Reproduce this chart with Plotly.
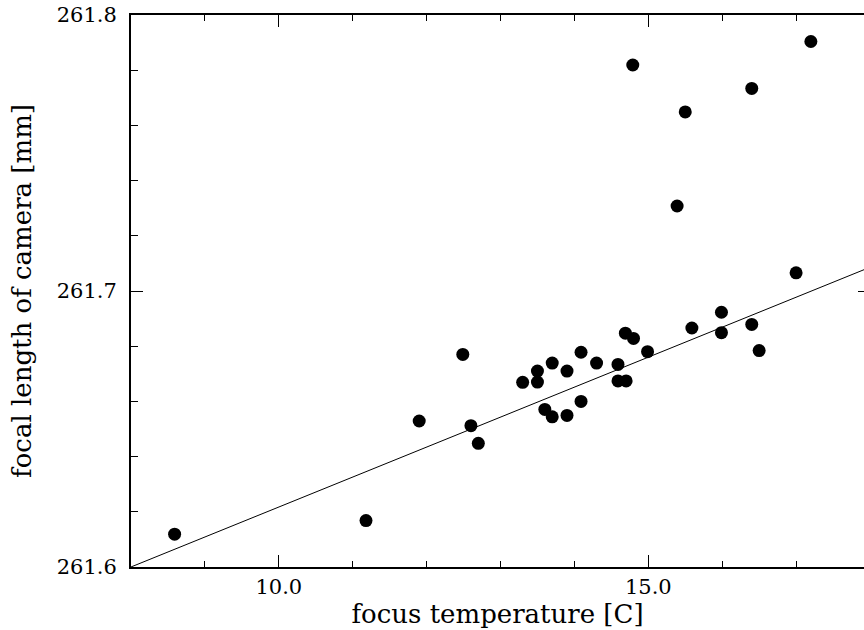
import plotly.graph_objects as go

# focus temperature [C]
temp = [8.59, 11.18, 11.90, 12.49, 12.60, 12.70, 13.30, 13.50, 13.50, 13.60,
        13.70, 13.70, 13.90, 13.90, 14.09, 14.09, 14.30, 14.59, 14.59, 14.70,
        14.69, 14.80, 14.79, 14.99, 15.39, 15.50, 15.59, 15.99, 15.99, 16.40,
        16.40, 16.50, 17.00, 17.20]
# focal length of camera [mm]
focal = [261.6119, 261.6168, 261.6529, 261.6770, 261.6512, 261.6448, 261.6669, 261.6710, 261.6670, 261.6571,
         261.6739, 261.6544, 261.6710, 261.6549, 261.6778, 261.6600, 261.6739, 261.6734, 261.6674, 261.6674,
         261.6847, 261.6828, 261.7819, 261.6780, 261.7308, 261.7649, 261.6866, 261.6923, 261.6849, 261.6879,
         261.7734, 261.6784, 261.7066, 261.7904]

# linear fit
fit_x = [8.0, 18.0]
fit_y = [261.6, 261.7086]

x_ticks = [10.0, 15.0]
x_tick_labels = ["10.0", "15.0"]
y_ticks = [261.6, 261.7, 261.8]
y_tick_labels = ["261.6", "261.7", "261.8"]

FONT = "DejaVu Serif"
Y_RANGE = [261.59999, 261.80001]

fig = go.Figure()
fig.add_trace(go.Scatter(x=fit_x, y=fit_y, mode="lines", yaxis="y2",
                         line=dict(color="black", width=1), hoverinfo="skip"))
fig.add_trace(go.Scatter(x=temp, y=focal, mode="markers",
                         marker=dict(color="black", size=13, line=dict(width=0))))

tickfont = dict(family=FONT, size=21, color="black")
titlefont = dict(family=FONT, size=26, color="black")

fig.update_layout(
    xaxis=dict(
        showgrid=False, zeroline=False, showline=True, linecolor="black", linewidth=2,
        mirror="ticks", ticks="inside", ticklen=12, tickwidth=1, tickcolor="black",
        tickfont=tickfont, range=[8, 17.919], tickmode="array",
        tickvals=x_ticks, ticktext=x_tick_labels,
        minor=dict(dtick=1, ticks="inside", ticklen=6, tickwidth=1, tickcolor="black", showgrid=False),
        title=dict(text="focus temperature [C]", font=titlefont, standoff=6),
    ),
    yaxis=dict(
        showgrid=False, zeroline=False, showline=True, linecolor="black", linewidth=2,
        mirror=False, ticks="inside", ticklen=12, tickwidth=1, tickcolor="black",
        tickfont=tickfont, range=Y_RANGE, tickmode="array",
        tickvals=y_ticks, ticktext=y_tick_labels, ticklabelstandoff=8,
        ticklabeloverflow="allow", automargin=False,
        minor=dict(dtick=0.02, ticks="inside", ticklen=7, tickwidth=1, tickcolor="black", showgrid=False),
        title=dict(text="focal length of camera [mm]", font=titlefont, standoff=18),
    ),
    yaxis2=dict(
        overlaying="y", side="right", range=Y_RANGE, showgrid=False, zeroline=False,
        showline=False, ticks="inside", ticklen=6, tickwidth=1, tickcolor="black",
        tickmode="array", tickvals=y_ticks, showticklabels=False, automargin=False,
    ),
    width=864, height=630, autosize=False,
    margin=dict(l=131, r=0, t=15, b=63),
    plot_bgcolor="white", paper_bgcolor="white",
    showlegend=False,
)

fig.write_html("out.html", config={"displayModeBar": False},
               post_script="document.body.style.margin='0';")
